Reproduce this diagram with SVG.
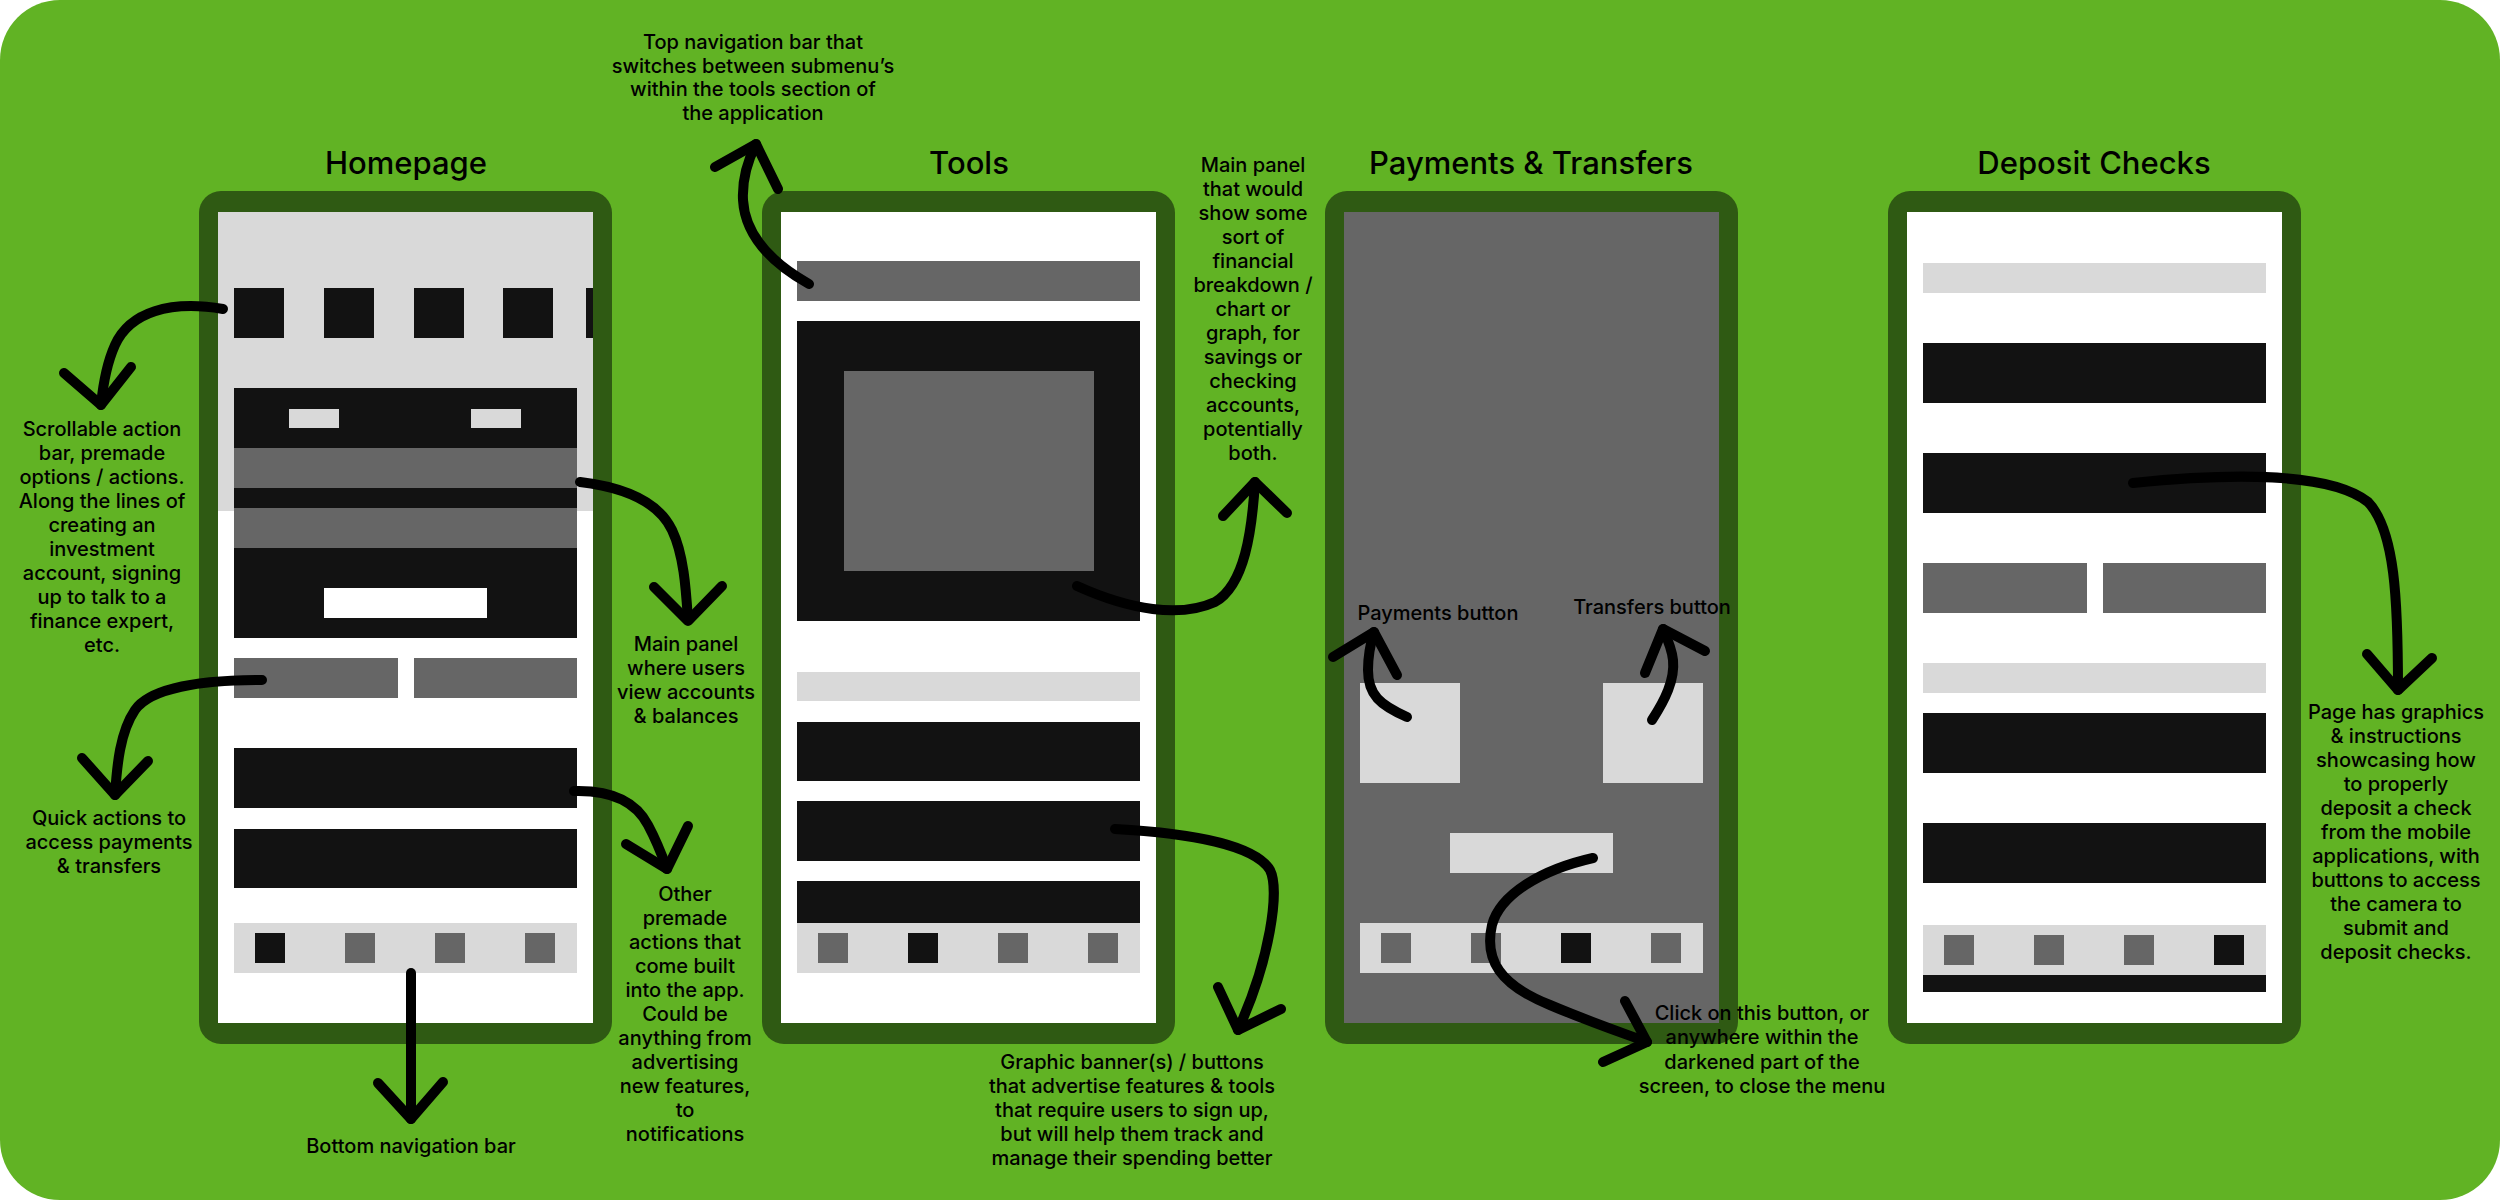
<svg xmlns="http://www.w3.org/2000/svg" width="2500" height="1200" viewBox="0 0 2500 1200">
<defs>
<style>
.frame{fill:#2f5a13}
.scr{fill:#ffffff}
.lg{fill:#d9d9d9}
.dg{fill:#666666}
.bk{fill:#121212}
.wh{fill:#ffffff}
.title{font-family:Inter,Roboto,"Liberation Sans",sans-serif;font-weight:500;font-size:31px;fill:#000;text-anchor:middle}
.note{font-family:Inter,Roboto,"Liberation Sans",sans-serif;font-weight:500;font-size:20px;fill:#000;text-anchor:middle}
.arr{fill:none;stroke:#000;stroke-width:10;stroke-linecap:round;stroke-linejoin:round}
</style>
</defs>
<rect x="0" y="0" width="2500" height="1200" fill="#ffffff"/>
<rect x="0" y="0" width="2500" height="1200" rx="60" ry="60" fill="#61b324"/>

<g id="homepage">
<text class="title" x="406" y="174">Homepage</text>
<rect class="frame" x="199" y="191" width="413" height="853" rx="22"/>
<rect class="scr" x="218" y="212" width="375" height="811"/>
<rect class="lg" x="218" y="212" width="375" height="299"/>
<rect class="bk" x="234" y="288" width="50" height="50"/>
<rect class="bk" x="324" y="288" width="50" height="50"/>
<rect class="bk" x="414" y="288" width="50" height="50"/>
<rect class="bk" x="503" y="288" width="50" height="50"/>
<rect class="bk" x="586" y="288" width="7" height="50"/>
<rect class="bk" x="234" y="388" width="343" height="250"/>
<rect class="dg" x="234" y="448" width="343" height="40"/>
<rect class="dg" x="234" y="508" width="343" height="40"/>
<rect class="lg" x="289" y="409" width="50" height="19"/>
<rect class="lg" x="471" y="409" width="50" height="19"/>
<rect class="wh" x="324" y="588" width="163" height="30"/>
<rect class="dg" x="234" y="658" width="164" height="40"/>
<rect class="dg" x="414" y="658" width="163" height="40"/>
<rect class="bk" x="234" y="748" width="343" height="60"/>
<rect class="bk" x="234" y="829" width="343" height="59"/>
<rect class="lg" x="234" y="923" width="343" height="50"/>
<rect class="bk" x="255" y="933" width="30" height="30"/>
<rect class="dg" x="345" y="933" width="30" height="30"/>
<rect class="dg" x="435" y="933" width="30" height="30"/>
<rect class="dg" x="525" y="933" width="30" height="30"/>
</g>

<g id="tools">
<text class="title" x="969" y="174">Tools</text>
<rect class="frame" x="762" y="191" width="413" height="853" rx="22"/>
<rect class="scr" x="781" y="212" width="375" height="811"/>
<rect class="dg" x="797" y="261" width="343" height="40"/>
<rect class="bk" x="797" y="321" width="343" height="300"/>
<rect class="dg" x="844" y="371" width="250" height="200"/>
<rect class="lg" x="797" y="672" width="343" height="29"/>
<rect class="bk" x="797" y="722" width="343" height="59"/>
<rect class="bk" x="797" y="801" width="343" height="60"/>
<rect class="bk" x="797" y="881" width="343" height="42"/>
<rect class="lg" x="797" y="923" width="343" height="50"/>
<rect class="dg" x="818" y="933" width="30" height="30"/>
<rect class="bk" x="908" y="933" width="30" height="30"/>
<rect class="dg" x="998" y="933" width="30" height="30"/>
<rect class="dg" x="1088" y="933" width="30" height="30"/>
</g>

<g id="payments-transfers">
<text class="title" x="1531" y="174">Payments &amp; Transfers</text>
<rect class="frame" x="1325" y="191" width="413" height="853" rx="22"/>
<rect class="dg" x="1344" y="212" width="375" height="811"/>
<rect class="lg" x="1360" y="683" width="100" height="100"/>
<rect class="lg" x="1603" y="683" width="100" height="100"/>
<rect class="lg" x="1450" y="833" width="163" height="40"/>
<rect class="lg" x="1360" y="923" width="343" height="50"/>
<rect class="dg" x="1381" y="933" width="30" height="30"/>
<rect class="dg" x="1471" y="933" width="30" height="30"/>
<rect class="bk" x="1561" y="933" width="30" height="30"/>
<rect class="dg" x="1651" y="933" width="30" height="30"/>
</g>

<g id="deposit-checks">
<text class="title" x="2094" y="174">Deposit Checks</text>
<rect class="frame" x="1888" y="191" width="413" height="853" rx="22"/>
<rect class="scr" x="1907" y="212" width="375" height="811"/>
<rect class="lg" x="1923" y="263" width="343" height="30"/>
<rect class="bk" x="1923" y="343" width="343" height="60"/>
<rect class="bk" x="1923" y="453" width="343" height="60"/>
<rect class="dg" x="1923" y="563" width="164" height="50"/>
<rect class="dg" x="2103" y="563" width="163" height="50"/>
<rect class="lg" x="1923" y="663" width="343" height="30"/>
<rect class="bk" x="1923" y="713" width="343" height="60"/>
<rect class="bk" x="1923" y="823" width="343" height="60"/>
<rect class="lg" x="1923" y="925" width="343" height="50"/>
<rect class="dg" x="1944" y="935" width="30" height="30"/>
<rect class="dg" x="2034" y="935" width="30" height="30"/>
<rect class="dg" x="2124" y="935" width="30" height="30"/>
<rect class="bk" x="2214" y="935" width="30" height="30"/>
<rect class="bk" x="1923" y="975" width="343" height="17"/>
</g>

<g id="labels">
<text class="note" x="102"><tspan x="102" y="436">Scrollable action</tspan><tspan x="102" y="460">bar, premade</tspan><tspan x="102" y="484">options / actions.</tspan><tspan x="102" y="508">Along the lines of</tspan><tspan x="102" y="532">creating an</tspan><tspan x="102" y="556">investment</tspan><tspan x="102" y="580">account, signing</tspan><tspan x="102" y="604">up to talk to a</tspan><tspan x="102" y="628">finance expert,</tspan><tspan x="102" y="652">etc.</tspan></text>
<text class="note"><tspan x="686" y="651">Main panel</tspan><tspan x="686" y="675">where users</tspan><tspan x="686" y="699">view accounts</tspan><tspan x="686" y="723">&amp; balances</tspan></text>
<text class="note"><tspan x="109" y="825">Quick actions to</tspan><tspan x="109" y="849">access payments</tspan><tspan x="109" y="873">&amp; transfers</tspan></text>
<text class="note"><tspan x="685" y="901">Other</tspan><tspan x="685" y="925">premade</tspan><tspan x="685" y="949">actions that</tspan><tspan x="685" y="973">come built</tspan><tspan x="685" y="997">into the app.</tspan><tspan x="685" y="1021">Could be</tspan><tspan x="685" y="1045">anything from</tspan><tspan x="685" y="1069">advertising</tspan><tspan x="685" y="1093">new features,</tspan><tspan x="685" y="1117">to</tspan><tspan x="685" y="1141">notifications</tspan></text>
<text class="note" x="411" y="1153">Bottom navigation bar</text>
<text class="note"><tspan x="753" y="49">Top navigation bar that</tspan><tspan x="753" y="73">switches between submenu’s</tspan><tspan x="753" y="96">within the tools section of</tspan><tspan x="753" y="120">the application</tspan></text>
<text class="note"><tspan x="1253" y="172">Main panel</tspan><tspan x="1253" y="196">that would</tspan><tspan x="1253" y="220">show some</tspan><tspan x="1253" y="244">sort of</tspan><tspan x="1253" y="268">financial</tspan><tspan x="1253" y="292">breakdown /</tspan><tspan x="1253" y="316">chart or</tspan><tspan x="1253" y="340">graph, for</tspan><tspan x="1253" y="364">savings or</tspan><tspan x="1253" y="388">checking</tspan><tspan x="1253" y="412">accounts,</tspan><tspan x="1253" y="436">potentially</tspan><tspan x="1253" y="460">both.</tspan></text>
<text class="note"><tspan x="1132" y="1069">Graphic banner(s) / buttons</tspan><tspan x="1132" y="1093">that advertise features &amp; tools</tspan><tspan x="1132" y="1117">that require users to sign up,</tspan><tspan x="1132" y="1141">but will help them track and</tspan><tspan x="1132" y="1165">manage their spending better</tspan></text>
<text class="note" x="1438" y="620">Payments button</text>
<text class="note" x="1652" y="614">Transfers button</text>
<text class="note"><tspan x="1762" y="1020">Click on this button, or</tspan><tspan x="1762" y="1044">anywhere within the</tspan><tspan x="1762" y="1069">darkened part of the</tspan><tspan x="1762" y="1093">screen, to close the menu</tspan></text>
<text class="note"><tspan x="2396" y="719">Page has graphics</tspan><tspan x="2396" y="743">&amp; instructions</tspan><tspan x="2396" y="767">showcasing how</tspan><tspan x="2396" y="791">to properly</tspan><tspan x="2396" y="815">deposit a check</tspan><tspan x="2396" y="839">from the mobile</tspan><tspan x="2396" y="863">applications, with</tspan><tspan x="2396" y="887">buttons to access</tspan><tspan x="2396" y="911">the camera to</tspan><tspan x="2396" y="935">submit and</tspan><tspan x="2396" y="959">deposit checks.</tspan></text>
</g>

<g id="connectors" class="arr">
<path class="arr" d="M223,309 C170,300 130,312 115,345 C106,365 103,385 101,405"/>
<path class="arr" d="M64,373 L101,405 L131,367"/>
<path class="arr" d="M580,482 C630,488 660,505 672,530 C684,555 686,590 688,620"/>
<path class="arr" d="M654,587 L688,621 L722,586"/>
<path class="arr" d="M262,680 C200,680 150,688 135,710 C120,732 117,765 115,795"/>
<path class="arr" d="M82,758 L115,795 L148,761"/>
<path class="arr" d="M574,791 C610,790 635,800 648,825 C656,840 662,855 667,869"/>
<path class="arr" d="M626,844 L667,869 L688,826"/>
<path class="arr" d="M411,973 L411,1119"/>
<path class="arr" d="M378,1083 L411,1119 L443,1082"/>
<path class="arr" d="M809,284 C770,262 745,235 743,200 C742,180 748,160 756,144"/>
<path class="arr" d="M715,167 L756,144 L778,189"/>
<path class="arr" d="M1077,586 C1130,610 1180,618 1215,602 C1245,585 1252,530 1255,482"/>
<path class="arr" d="M1223,516 L1255,482 L1287,513"/>
<path class="arr" d="M1115,829 C1190,833 1255,845 1270,870 C1280,890 1270,960 1238,1030"/>
<path class="arr" d="M1218,987 L1238,1030 L1281,1009"/>
<path class="arr" d="M1407,717 C1380,705 1368,695 1368,670 C1368,655 1370,645 1374,632"/>
<path class="arr" d="M1333,657 L1374,632 L1397,675"/>
<path class="arr" d="M1652,720 C1665,700 1675,680 1673,660 C1672,650 1668,640 1663,629"/>
<path class="arr" d="M1645,673 L1663,629 L1705,651"/>
<path class="arr" d="M1593,858 C1540,870 1500,895 1492,925 C1484,960 1500,985 1550,1005 C1590,1022 1620,1032 1647,1042"/>
<path class="arr" d="M1625,1001 L1647,1042 L1603,1062"/>
<path class="arr" d="M2133,483 C2230,473 2330,472 2368,502 C2395,530 2398,600 2398,690"/>
<path class="arr" d="M2367,654 L2398,690 L2432,658"/>
</g>
</svg>
